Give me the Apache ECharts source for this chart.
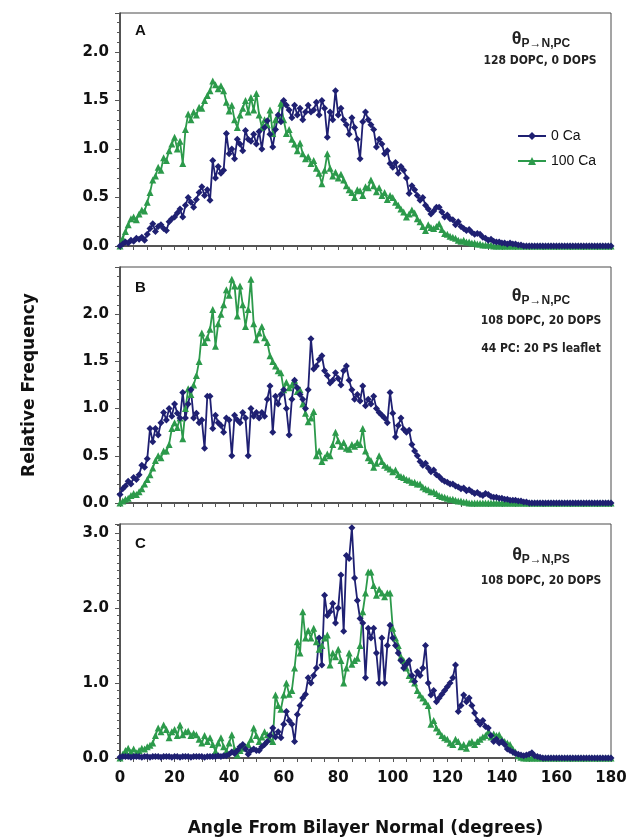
<!DOCTYPE html>
<html>
<head>
<meta charset="utf-8">
<script src="https://cdn.jsdelivr.net/npm/echarts@6/dist/echarts.min.js"></script>
<style>
  html, body { margin: 0; padding: 0; background: #fff; }
  #chart { width: 631px; height: 840px; }
</style>
</head>
<body>
<div id="chart"></div>
<script>
// 角度 0..180 (1 度一个点)
var angles = Array.from({ length: 181 }, function (_, i) { return i; });
var xTicks = [0, 20, 40, 60, 80, 100, 120, 140, 160, 180];
var legendNames = ['0 Ca', '100 Ca'];

// A: 128 DOPC, 0 DOPS
var blueA = [
  0.00,0.02,0.04,0.03,0.06,0.05,0.08,0.07,0.09,0.06,
  0.12,0.18,0.23,0.15,0.20,0.22,0.18,0.16,0.25,0.28,
  0.30,0.34,0.38,0.30,0.42,0.50,0.45,0.40,0.48,0.55,
  0.61,0.52,0.58,0.47,0.88,0.70,0.82,0.75,0.78,1.16,
  0.95,1.00,0.90,1.10,1.05,0.98,1.19,1.10,1.08,1.15,
  1.05,1.18,1.00,1.22,1.29,1.15,1.02,1.20,1.35,1.28,
  1.50,1.45,1.40,1.32,1.45,1.35,1.42,1.30,1.38,1.45,
  1.38,1.40,1.48,1.35,1.50,1.42,1.12,1.38,1.30,1.60,
  1.35,1.42,1.30,1.25,1.15,1.32,1.22,1.10,0.90,1.28,
  1.38,1.30,1.25,1.20,1.02,1.10,1.05,0.95,0.98,0.85,
  0.81,0.86,0.75,0.82,0.78,0.70,0.54,0.62,0.58,0.52,
  0.47,0.50,0.42,0.38,0.33,0.36,0.40,0.40,0.35,0.30,
  0.32,0.28,0.27,0.22,0.25,0.20,0.18,0.16,0.17,0.14,
  0.12,0.13,0.12,0.09,0.08,0.06,0.07,0.05,0.04,0.04,
  0.03,0.03,0.02,0.03,0.02,0.02,0.01,0.01,0,0,
  0,0,0,0,0,0,0,0,0,0, 0,0,0,0,0,0,0,0,0,0, 0,0,0,0,0,0,0,0,0,0, 0
];
var greenA = [
  0.00,0.08,0.15,0.22,0.28,0.30,0.27,0.33,0.37,0.36,
  0.45,0.55,0.68,0.72,0.81,0.78,0.91,0.88,0.98,1.05,
  1.12,1.00,1.08,0.85,1.20,1.36,1.30,1.38,1.35,1.43,
  1.42,1.50,1.55,1.60,1.70,1.66,1.62,1.65,1.60,1.48,
  1.39,1.45,1.30,1.22,1.35,1.42,1.50,1.38,1.53,1.40,
  1.57,1.35,1.22,1.30,1.25,1.40,1.16,1.30,1.35,1.47,
  1.30,1.16,1.20,1.10,1.05,0.98,1.06,0.95,0.90,0.92,
  0.85,0.88,0.80,0.75,0.64,0.78,0.95,0.80,0.72,0.76,
  0.70,0.74,0.68,0.62,0.58,0.55,0.50,0.58,0.57,0.52,
  0.61,0.60,0.68,0.62,0.56,0.60,0.52,0.55,0.48,0.52,
  0.50,0.45,0.42,0.38,0.35,0.30,0.33,0.37,0.34,0.28,
  0.25,0.20,0.16,0.22,0.19,0.18,0.20,0.23,0.17,0.13,
  0.12,0.10,0.09,0.08,0.06,0.05,0.06,0.04,0.04,0.03,
  0.03,0.02,0.02,0.01,0.01,0.01,0.01,0,0,0,
  0,0,0,0,0,0,0,0,0,0, 0,0,0,0,0,0,0,0,0,0,
  0,0,0,0,0,0,0,0,0,0, 0,0,0,0,0,0,0,0,0,0, 0
];

// B: 108 DOPC, 20 DOPS (44 PC : 20 PS leaflet)
var blueB = [
  0.09,0.15,0.18,0.23,0.20,0.27,0.25,0.30,0.40,0.38,
  0.47,0.79,0.65,0.79,0.72,0.85,0.96,0.88,1.00,0.92,
  1.05,0.95,0.90,1.17,0.90,1.05,1.20,0.90,0.95,0.85,
  0.88,0.58,1.13,1.13,0.79,0.93,0.85,0.82,0.75,0.90,
  0.88,0.50,0.93,0.88,0.85,0.96,0.90,0.50,1.00,0.92,
  0.96,0.90,0.96,0.92,1.10,1.24,0.75,1.13,1.05,1.15,
  1.20,1.00,0.72,1.10,1.30,1.22,1.15,1.10,1.00,1.20,
  1.74,1.42,1.45,1.52,1.56,1.40,1.35,1.27,1.30,1.38,
  1.32,1.25,1.40,1.45,1.30,1.20,1.10,1.15,1.08,1.24,
  1.03,1.10,1.05,1.13,1.00,0.96,0.93,0.90,0.85,1.17,
  0.95,0.70,0.82,0.90,0.78,0.75,0.77,0.62,0.55,0.50,
  0.44,0.40,0.42,0.37,0.33,0.35,0.30,0.28,0.25,0.23,
  0.22,0.20,0.20,0.18,0.17,0.15,0.16,0.13,0.14,0.12,
  0.10,0.11,0.09,0.08,0.10,0.09,0.07,0.06,0.06,0.05,
  0.05,0.04,0.04,0.03,0.03,0.03,0.02,0.02,0.01,0.01,
  0,0,0,0,0,0,0,0,0,0, 0,0,0,0,0,0,0,0,0,0, 0,0,0,0,0,0,0,0,0,0, 0
];
var greenB = [
  0.00,0.02,0.04,0.05,0.08,0.10,0.09,0.12,0.15,0.20,
  0.25,0.30,0.37,0.45,0.50,0.48,0.55,0.55,0.62,0.79,
  0.85,0.80,0.90,0.68,1.00,1.21,1.15,1.25,1.35,1.50,
  1.80,1.70,1.75,1.84,2.05,1.66,1.90,2.00,2.10,2.26,
  2.20,2.37,2.30,1.98,2.30,2.10,1.87,2.05,2.37,1.90,
  1.73,1.80,1.87,1.75,1.70,1.56,1.50,1.45,1.40,1.38,
  1.20,1.28,1.22,1.25,1.30,1.18,1.20,1.05,0.95,0.86,
  0.90,0.97,0.50,0.55,0.44,0.48,0.52,0.50,0.62,0.75,
  0.66,0.60,0.64,0.58,0.57,0.62,0.60,0.64,0.62,0.79,
  0.55,0.48,0.45,0.38,0.42,0.50,0.44,0.40,0.38,0.36,
  0.33,0.35,0.30,0.28,0.27,0.25,0.24,0.22,0.22,0.20,
  0.20,0.17,0.15,0.14,0.12,0.12,0.10,0.08,0.07,0.06,
  0.05,0.04,0.04,0.03,0.02,0.02,0.01,0.01,0,0,
  0,0,0,0,0,0,0,0,0,0, 0,0,0,0,0,0,0,0,0,0,
  0,0,0,0,0,0,0,0,0,0, 0,0,0,0,0,0,0,0,0,0,
  0,0,0,0,0,0,0,0,0,0, 0
];

// C: P->N,PS, 108 DOPC, 20 DOPS
var blueC = [
  0.01,0.02,0.02,0.02,0.01,0.02,0.02,0.02,0.01,0.02,
  0.02,0.01,0.02,0.02,0.02,0.01,0.02,0.02,0.02,0.01,
  0.02,0.02,0.01,0.02,0.02,0.02,0.01,0.02,0.02,0.02,
  0.02,0.01,0.02,0.02,0.02,0.02,0.03,0.02,0.03,0.03,
  0.05,0.08,0.06,0.10,0.15,0.18,0.12,0.05,0.10,0.12,
  0.10,0.10,0.15,0.18,0.22,0.30,0.40,0.28,0.35,0.27,
  0.45,0.62,0.50,0.45,0.22,0.58,0.70,0.80,0.85,1.07,
  1.00,1.10,1.20,1.60,1.24,2.17,1.90,1.95,2.06,1.80,
  2.00,2.44,1.69,2.70,2.66,3.07,2.40,2.10,1.86,1.80,
  1.07,1.73,1.60,1.73,1.40,1.00,1.60,1.00,1.50,1.77,
  1.60,1.50,1.40,1.30,1.20,1.25,1.30,1.10,1.02,1.15,
  1.10,1.20,1.50,1.00,0.84,0.90,0.75,0.80,0.85,0.90,
  0.95,1.00,1.07,1.24,0.62,0.70,0.84,0.75,0.80,0.70,
  0.60,0.50,0.45,0.50,0.42,0.40,0.30,0.22,0.25,0.20,
  0.22,0.18,0.12,0.10,0.08,0.06,0.05,0.04,0.03,0.04,
  0.05,0.07,0.03,0.02,0.01,0,0,0,0,0,
  0,0,0,0,0,0,0,0,0,0, 0,0,0,0,0,0,0,0,0,0, 0
];
var greenC = [
  0.00,0.05,0.10,0.13,0.08,0.12,0.07,0.10,0.13,0.12,
  0.15,0.17,0.20,0.30,0.40,0.35,0.44,0.38,0.27,0.35,
  0.38,0.30,0.44,0.31,0.35,0.36,0.30,0.33,0.31,0.25,
  0.20,0.30,0.22,0.27,0.18,0.09,0.20,0.27,0.15,0.09,
  0.20,0.31,0.12,0.04,0.10,0.13,0.15,0.18,0.25,0.40,
  0.30,0.22,0.28,0.35,0.31,0.25,0.22,0.84,0.70,0.65,
  0.84,1.00,0.85,0.90,1.20,1.55,1.40,1.95,1.60,1.70,
  1.60,1.73,1.55,1.45,1.50,1.60,1.64,1.24,1.40,1.35,
  1.45,1.30,1.00,1.20,1.40,1.25,1.30,1.33,1.50,1.95,
  2.20,2.48,2.48,2.30,2.17,2.25,2.20,2.15,2.20,2.20,
  1.73,1.60,1.50,1.35,1.30,1.20,1.10,1.05,1.00,0.90,
  0.84,0.80,0.75,0.70,0.45,0.50,0.40,0.35,0.30,0.27,
  0.25,0.20,0.18,0.25,0.22,0.15,0.18,0.13,0.20,0.22,
  0.18,0.22,0.25,0.28,0.30,0.35,0.28,0.32,0.30,0.31,
  0.25,0.22,0.20,0.18,0.12,0.08,0.03,0.01,0,0,
  0,0,0,0,0,0,0,0,0,0, 0,0,0,0,0,0,0,0,0,0,
  0,0,0,0,0,0,0,0,0,0, 0
];

var BLUE = '#1f2072';
var GREEN = '#2c9a4b';
var labelFont = 'DejaVu Sans';
var noteFont = 'DejaVu Sans Condensed';

var myChart = echarts.init(document.getElementById('chart'), null, { renderer: 'canvas' });

function pairs(vals) {
  return angles.map(function (a, i) { return [a, vals[i]]; });
}

// 三个面板的位置
var grids = [
  { left: 120, right: 20, top: 13, height: 233 },
  { left: 120, right: 20, top: 267, height: 236 },
  { left: 120, right: 20, top: 524, height: 234 }
];
grids.forEach(function (g) {
  g.show = true;
  g.borderColor = '#4a4a4a';
  g.borderWidth = 1;
  g.backgroundColor = '#fff';
});

function makeX(idx, showLabel) {
  return {
    type: 'value', gridIndex: idx, min: 0, max: 180, interval: 20,
    axisLine: { show: true, onZero: false, lineStyle: { color: '#3a3a3a', width: 1.5 } },
    axisTick: { show: true, length: 4, lineStyle: { color: '#555' } },
    minorTick: { show: true, splitNumber: 4, length: 4, lineStyle: { color: '#555' } },
    splitLine: { show: false },
    axisLabel: {
      show: showLabel, color: '#111', fontFamily: labelFont, fontWeight: 'bold',
      fontSize: 15, margin: 13,
      formatter: function (v) { return xTicks.indexOf(v) >= 0 ? String(v) : ''; }
    },
    name: showLabel ? 'Angle From Bilayer Normal (degrees)' : '',
    nameLocation: 'middle', nameGap: 62,
    nameTextStyle: { fontFamily: labelFont, fontWeight: 'bold', fontSize: 17, color: '#111' }
  };
}

function makeY(idx, max, interval, minorSplit, name) {
  return {
    type: 'value', gridIndex: idx, min: 0, max: max, interval: interval,
    axisLine: { show: true, lineStyle: { color: '#3a3a3a', width: 1.5 } },
    axisTick: { show: true, length: 5, lineStyle: { color: '#555' } },
    minorTick: { show: true, splitNumber: minorSplit, length: 3, lineStyle: { color: '#555' } },
    splitLine: { show: false },
    axisLabel: {
      color: '#111', fontFamily: labelFont, fontWeight: 'bold', fontSize: 15, margin: 11,
      showMaxLabel: false,
      formatter: function (v) { return v.toFixed(1); }
    },
    name: name || '', nameLocation: 'middle', nameGap: 82, nameRotate: 90,
    nameTextStyle: { fontFamily: labelFont, fontWeight: 'bold', fontSize: 17, color: '#111' }
  };
}

function lineSeries(name, idx, vals, color, symbol, size) {
  return {
    name: name, type: 'line', xAxisIndex: idx, yAxisIndex: idx,
    data: pairs(vals), symbol: symbol, symbolSize: size, showSymbol: true,
    lineStyle: { color: color, width: 1.8 },
    itemStyle: { color: color },
    animation: false
  };
}

var rich = {
  t: { fontFamily: 'Liberation Sans', fontWeight: 'bold', fontSize: 18, color: '#222' },
  s: { fontFamily: 'Liberation Sans', fontWeight: 'bold', fontSize: 12, color: '#222', padding: [9, 0, 0, 0] }
};
function note(text, x, y, size) {
  return {
    text: text, left: x, top: y, textAlign: 'center',
    textStyle: { fontFamily: noteFont, fontWeight: 'bold', fontSize: size || 12, color: '#222', rich: rich }
  };
}
function letter(text, x, y) {
  return {
    text: text, left: x, top: y,
    textStyle: { fontFamily: 'Liberation Sans', fontWeight: 'bold', fontSize: 15, color: '#111' }
  };
}

var option = {
  backgroundColor: '#fff',
  animation: false,
  title: [
    letter('A', 130, 18), letter('B', 130, 275), letter('C', 130, 531),
    note('{t|θ}{s|P→N,PC}', 536, 24), note('128 DOPC, 0 DOPS', 535, 50),
    note('{t|θ}{s|P→N,PC}', 536, 281), note('108 DOPC, 20 DOPS', 536, 310), note('44 PC: 20 PS leaflet', 536, 338),
    note('{t|θ}{s|P→N,PS}', 536, 540), note('108 DOPC, 20 DOPS', 536, 570)
  ],
  legend: {
    data: legendNames, orient: 'vertical', left: 512, top: 124,
    itemWidth: 28, itemHeight: 10, itemGap: 11,
    textStyle: { fontFamily: 'Liberation Sans', fontSize: 14, color: '#111' }
  },
  grid: grids,
  xAxis: [makeX(0, false), makeX(1, false), makeX(2, true)],
  yAxis: [makeY(0, 2.4, 0.5, 5), makeY(1, 2.5, 0.5, 5, 'Relative Frequency'), makeY(2, 3.12, 1, 10)],
  series: [
    lineSeries('100 Ca', 0, greenA, GREEN, 'triangle', 7),
    lineSeries('0 Ca', 0, blueA, BLUE, 'diamond', 7),
    lineSeries('100 Ca', 1, greenB, GREEN, 'triangle', 7),
    lineSeries('0 Ca', 1, blueB, BLUE, 'diamond', 7),
    lineSeries('100 Ca', 2, greenC, GREEN, 'triangle', 7),
    lineSeries('0 Ca', 2, blueC, BLUE, 'diamond', 7)
  ]
};
myChart.setOption(option);
</script>
</body>
</html>
